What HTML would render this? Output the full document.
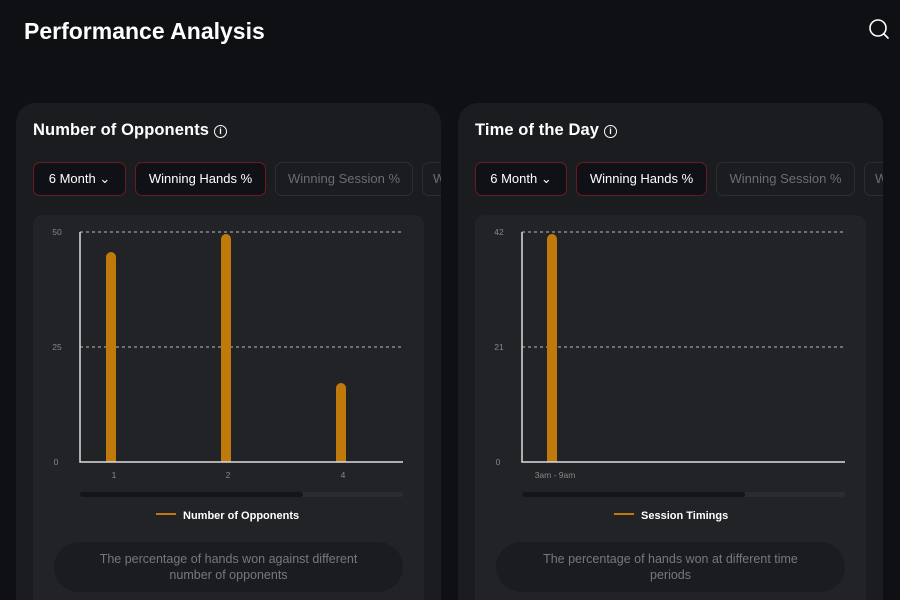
<!DOCTYPE html>
<html style="width:900px;height:600px;overflow:hidden"><head><style>
*{margin:0;padding:0;box-sizing:border-box}
body{width:900px;height:600px;background:#0f1014;font-family:"Liberation Sans",sans-serif;color:#fff;position:relative;overflow:hidden}
.h{position:absolute;left:24px;top:18px;font-size:23px;font-weight:bold}
.card{position:absolute;top:103px;width:425px;height:497px;background:#1b1c20;border-radius:20px 20px 0 0;overflow:hidden}
.t{position:absolute;left:17px;top:18px;font-size:16.5px;font-weight:bold;letter-spacing:0.1px}
.t span{display:inline-block;width:13px;height:13px;border:1.5px solid #fff;border-radius:50%;font-size:9px;text-align:center;line-height:10px;margin-left:5px;vertical-align:1px}
.b{position:absolute;top:59px;height:34px;border-radius:7px;font-size:13px;line-height:32px;text-align:center;white-space:nowrap}
.on{border:1px solid #6b1a24;background:#101116;color:#fff}
.off{border:1px solid #2c2d32;color:#6c6d72}
.ch{position:absolute;left:17px;top:112px;width:391px;height:385px;background:#222327;border-radius:10px 10px 0 0}
.pill{position:absolute;left:21px;top:327px;width:349px;height:50px;border-radius:25px;background:#1b1c20;color:#77787d;font-size:12.5px;text-align:center;line-height:16px;padding-top:9px}
</style></head><body>
<div class="h">Performance Analysis</div>
<svg style="position:absolute;left:867px;top:18px" width="24" height="24"><circle cx="11" cy="10" r="8" fill="none" stroke="#fff" stroke-width="1.6"/><line x1="17" y1="16" x2="21" y2="20" stroke="#fff" stroke-width="1.6" stroke-linecap="round"/></svg>

<div class="card" style="left:16px">
<div class="t">Number of Opponents<span>i</span></div>
<div class="b on" style="left:17px;width:93px">6 Month ⌄</div>
<div class="b on" style="left:119px;width:131px">Winning Hands %</div>
<div class="b off" style="left:259px;width:138px">Winning Session %</div>
<div class="b off" style="left:406px;width:19px;border-right:none;border-radius:7px 0 0 7px;text-align:left;padding-left:10px;overflow:hidden">W</div>
<div class="ch">
<div class="pill">The percentage of hands won against different<br>number of opponents</div>
</div>
</div>
<div class="card" style="left:458px">
<div class="t">Time of the Day<span>i</span></div>
<div class="b on" style="left:17px;width:92px">6 Month ⌄</div>
<div class="b on" style="left:118px;width:131px">Winning Hands %</div>
<div class="b off" style="left:258px;width:139px">Winning Session %</div>
<div class="b off" style="left:406px;width:19px;border-right:none;border-radius:7px 0 0 7px;text-align:left;padding-left:10px;overflow:hidden">W</div>
<div class="ch">
<div class="pill">The percentage of hands won at different time<br>periods</div>
</div>
</div>

<svg style="position:absolute;left:0;top:0" width="900" height="600" font-family="Liberation Sans,sans-serif">
<g stroke="#bbb" stroke-dasharray="3,3" stroke-width="1">
<line x1="80" y1="232" x2="403" y2="232"/><line x1="80" y1="347" x2="403" y2="347"/>
<line x1="522" y1="232" x2="845" y2="232"/><line x1="522" y1="347" x2="845" y2="347"/>
</g>
<g fill="#c07a0c">
<rect x="106" y="252" width="10" height="210" rx="5"/><rect x="106" y="440" width="10" height="22"/>
<rect x="221" y="234" width="10" height="228" rx="5"/><rect x="221" y="440" width="10" height="22"/>
<rect x="336" y="383" width="10" height="79" rx="5"/><rect x="336" y="440" width="10" height="22"/>
<rect x="547" y="234" width="10" height="228" rx="5"/><rect x="547" y="440" width="10" height="22"/>
</g>
<g stroke="#ddd" stroke-width="1.5" fill="none">
<polyline points="80,232 80,462 403,462"/><polyline points="522,232 522,462 845,462"/>
</g>
<g fill="#888" font-size="8.5" text-anchor="middle">
<text x="57" y="235">50</text><text x="57" y="350">25</text><text x="56" y="465">0</text>
<text x="499" y="235">42</text><text x="499" y="350">21</text><text x="498" y="465">0</text>
<text x="114" y="478">1</text><text x="228" y="478">2</text><text x="343" y="478">4</text>
<text x="555" y="478">3am - 9am</text>
</g>
<rect x="80" y="492" width="323" height="5" rx="2.5" fill="#2b2c31"/><rect x="80" y="492" width="223" height="5" rx="2.5" fill="#141519"/>
<rect x="522" y="492" width="323" height="5" rx="2.5" fill="#2b2c31"/><rect x="522" y="492" width="223" height="5" rx="2.5" fill="#141519"/>
<line x1="156" y1="514" x2="176" y2="514" stroke="#c07a0c" stroke-width="2"/>
<text x="183" y="519" fill="#fff" font-size="11" font-weight="bold">Number of Opponents</text>
<line x1="614" y1="514" x2="634" y2="514" stroke="#c07a0c" stroke-width="2"/>
<text x="641" y="519" fill="#fff" font-size="11" font-weight="bold">Session Timings</text>
</svg>
</body></html>
